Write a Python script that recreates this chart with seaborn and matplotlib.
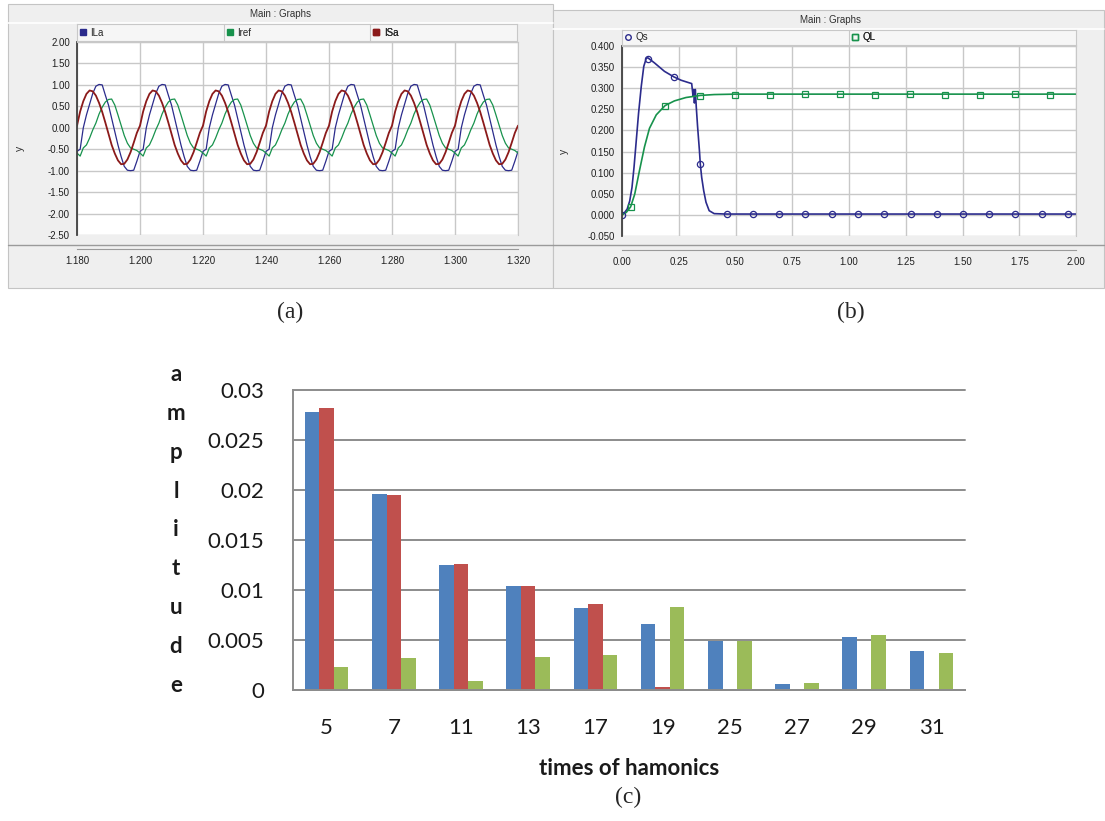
import numpy as np
import pandas as pd
import seaborn as sns
import matplotlib.pyplot as plt
from matplotlib.lines import Line2D
from matplotlib.patches import Rectangle

W, H = 1105, 821

# (a) one 20 ms cycle of each current, read at 1 ms steps from t = 1.180 s,
#     the picture shows 7 identical cycles
a_t0 = 1.180
a_cycles = 7
ila_cycle = [-0.55, -0.50, 0.00, 0.30, 0.55, 0.80, 0.97, 1.01, 1.00, 0.76,
             0.53, 0.22, -0.10, -0.40, -0.67, -0.90, -0.99, -1.00, -0.99, -0.78]
iref_cycle = [-0.59, -0.66, -0.47, -0.40, -0.24, -0.05, 0.11, 0.32, 0.48, 0.60,
              0.66, 0.67, 0.53, 0.30, 0.06, -0.18, -0.36, -0.47, -0.50, -0.53]
isa_cycle = [0.05, 0.38, 0.62, 0.79, 0.87, 0.85, 0.75, 0.58, 0.37, 0.12,
             -0.14, -0.40, -0.60, -0.76, -0.85, -0.84, -0.74, -0.57, -0.35, -0.12]

# (b) reactive powers
qs_t = [0.0, 0.012, 0.023, 0.034, 0.044, 0.053, 0.063, 0.073, 0.085, 0.096, 0.107,
        0.114, 0.143, 0.187, 0.228, 0.26, 0.289, 0.307, 0.313, 0.316, 0.319, 0.323,
        0.327, 0.333, 0.341, 0.345, 0.351, 0.36, 0.37, 0.384, 0.406, 0.459, 2.0]
qs_v = [0.0, 0.006, 0.014, 0.033, 0.065, 0.113, 0.177, 0.241, 0.305, 0.352, 0.371,
        0.372, 0.360, 0.340, 0.327, 0.319, 0.314, 0.311, 0.281, 0.297, 0.265, 0.297,
        0.257, 0.209, 0.153, 0.120, 0.089, 0.057, 0.030, 0.010, 0.003, 0.002, 0.002]
qs_mark_t = [0.0, 0.114, 0.228, 0.345, 0.461, 0.577, 0.692, 0.808, 0.924, 1.039,
             1.155, 1.271, 1.386, 1.502, 1.618, 1.733, 1.849, 1.965]
qs_mark_v = [0.0, 0.370, 0.326, 0.121, 0.002, 0.002, 0.002, 0.002, 0.002, 0.002,
             0.002, 0.002, 0.002, 0.002, 0.002, 0.002, 0.002, 0.002]
ql_t = [0.0, 0.019, 0.038, 0.056, 0.077, 0.099, 0.121, 0.151, 0.19, 0.231, 0.282,
        0.345, 0.406, 0.5, 2.0]
ql_v = [0.0, 0.006, 0.019, 0.049, 0.105, 0.161, 0.205, 0.237, 0.259, 0.270, 0.278,
        0.283, 0.285, 0.286, 0.286]
ql_mark_t = [0.038, 0.191, 0.345, 0.499, 0.653, 0.807, 0.961, 1.115, 1.269, 1.423,
             1.577, 1.731, 1.885]
ql_mark_v = [0.019, 0.258, 0.282, 0.285, 0.285, 0.287, 0.287, 0.284, 0.286, 0.284,
             0.284, 0.287, 0.284]

# (c) harmonic amplitudes
harmonics = ["5", "7", "11", "13", "17", "19", "25", "27", "29", "31"]
amp_blue = [0.0278, 0.0196, 0.0125, 0.0104, 0.0082, 0.0066, 0.0049, 0.0006, 0.0053, 0.0039]
amp_red = [0.0282, 0.0195, 0.0126, 0.0104, 0.0086, 0.0003, 0.0, 0.0, 0.0, 0.0]
amp_green = [0.0023, 0.0032, 0.0009, 0.0033, 0.0035, 0.0083, 0.0049, 0.0007, 0.0055, 0.0037]

C_BLUE, C_GREEN, C_RED = "#2b2b8c", "#17924c", "#8b1a1a"

sns.set_style("white")
plt.rcParams['font.family'] = ['Liberation Sans', 'DejaVu Sans']
plt.rcParams['axes.unicode_minus'] = False


def box(x0, y0, x1, y1):
    return [x0 / W, 1 - y1 / H, (x1 - x0) / W, (y1 - y0) / H]


fig = plt.figure(figsize=(W / 100, H / 100), dpi=100)
bg = fig.add_axes([0, 0, 1, 1])
bg.set_xlim(0, W)
bg.set_ylim(H, 0)
bg.axis('off')

# simulator window frames
for x0, x1, top, tx in [(8, 553, 4, 280), (553, 1104, 10, 831)]:
    bg.add_patch(Rectangle((x0, top), x1 - x0, 288 - top, fc="#efefef", ec="#c4c4c4", lw=0.8))
    bg.plot([x0, x1], [top + 19, top + 19], color="white", lw=1.2)
    bg.plot([x0, x1], [245, 245], color="#9a9a9a", lw=1.0)
    bg.text(tx, top + 10, "Main : Graphs", fontsize=7, ha="center", va="center", color="#303030")
bg.text(20, 148, "y", fontsize=7.5, rotation=90, ha="center", va="center", color="#303030")
bg.text(564, 151, "y", fontsize=7.5, rotation=90, ha="center", va="center", color="#303030")


def style_graph(ax):
    ax.set_facecolor("white")
    ax.grid(True, color="#c8c8c8", lw=1.0)
    for s in ["top", "right"]:
        ax.spines[s].set_color("#c8c8c8")
    ax.spines["left"].set_color("#404040")
    ax.spines["left"].set_linewidth(1.3)
    ax.spines["bottom"].set_position(("outward", 10))
    ax.spines["bottom"].set_color("#9a9a9a")
    ax.tick_params(axis="both", labelsize=7, direction="out", length=3, width=0.8,
                   color="#404040", pad=2, labelcolor="#202020")
    ax.tick_params(axis="x", length=3, color="#9a9a9a")


underlined = []


def legend_strip(rect, handles, labels, underline_last=True):
    lax = fig.add_axes(box(*rect))
    lax.set_facecolor("#f6f6f6")
    lax.set_xticks([])
    lax.set_yticks([])
    for s in lax.spines.values():
        s.set_color("#c8c8c8")
    n = len(handles)
    for i in range(1, n):
        lax.axvline(i / n, color="#c8c8c8", lw=0.8)
    for i, (h, lab) in enumerate(zip(handles, labels)):
        leg = lax.legend([h], [lab], loc="center left", bbox_to_anchor=(i / n, 0.5),
                         frameon=False, fontsize=7, handlelength=0.8, handletextpad=0.4,
                         borderaxespad=0, borderpad=0.2)
        lax.add_artist(leg)
        if underline_last and i == n - 1:
            underlined.append(leg.get_texts()[0])


# ---- (a)
axa = fig.add_axes(box(77, 42, 518, 235))
t_a = a_t0 + np.arange(a_cycles * 20 + 1) * 0.001
for cyc, c, lw in [(ila_cycle, C_BLUE, 0.9), (iref_cycle, C_GREEN, 0.9), (isa_cycle, C_RED, 1.3)]:
    vals = np.append(np.tile(cyc, a_cycles), cyc[0])
    sns.lineplot(x=t_a, y=vals, ax=axa, color=c, lw=lw, sort=False)
axa.set_xlim(1.18, 1.32)
axa.set_ylim(-2.5, 2.0)
axa.set_xticks(np.linspace(1.18, 1.32, 8))
axa.set_yticks(np.linspace(-2.5, 2.0, 10))
axa.xaxis.set_major_formatter("{x:.3f}")
axa.yaxis.set_major_formatter("{x:.2f}")
style_graph(axa)
sq = dict(marker="s", ls="none", markersize=4)
legend_strip((77, 24, 517, 41),
             [Line2D([], [], color=C_BLUE, **sq), Line2D([], [], color=C_GREEN, **sq),
              Line2D([], [], color=C_RED, **sq)],
             ["ILa", "Iref", "ISa"])

# ---- (b)
axb = fig.add_axes(box(622, 46, 1076, 236))
sns.lineplot(x=qs_t, y=qs_v, ax=axb, color=C_BLUE, lw=1.2, sort=False)
sns.lineplot(x=ql_t, y=ql_v, ax=axb, color=C_GREEN, lw=1.2, sort=False)
axb.plot(qs_mark_t, qs_mark_v, ls="none", marker="o", ms=4.5, mfc="none", mec=C_BLUE, mew=0.9)
axb.plot(ql_mark_t, ql_mark_v, ls="none", marker="s", ms=4.5, mfc="none", mec=C_GREEN, mew=0.9)
axb.set_xlim(0, 2.0)
axb.set_ylim(-0.05, 0.4)
axb.set_xticks(np.linspace(0, 2.0, 9))
axb.set_yticks(np.linspace(-0.05, 0.4, 10))
axb.xaxis.set_major_formatter("{x:.2f}")
axb.yaxis.set_major_formatter("{x:.3f}")
style_graph(axb)
legend_strip((622, 30, 1076, 45),
             [Line2D([], [], marker="o", ls="none", ms=4, mfc="none", mec=C_BLUE),
              Line2D([], [], marker="s", ls="none", ms=4, mfc="none", mec=C_GREEN)],
             ["Qs", "QL"])

# ---- (c)
df = pd.DataFrame({
    "harmonic": harmonics * 3,
    "amplitude": amp_blue + amp_red + amp_green,
    "series": ["s1"] * 10 + ["s2"] * 10 + ["s3"] * 10,
})
axc = fig.add_axes(box(293, 390, 965, 690))
sns.barplot(data=df, x="harmonic", y="amplitude", hue="series", order=harmonics,
            palette=["#4f81bd", "#c0504d", "#9bbb59"], saturation=1, width=0.65,
            linewidth=0, legend=False, ax=axc)
GRAY = "#8c8c8c"
y_ticks = [0, 0.005, 0.01, 0.015, 0.02, 0.025, 0.03]
axc.set_ylim(0, 0.03)
axc.set_xlim(-0.5, len(harmonics) - 0.5)
axc.set_yticks(y_ticks)
axc.set_yticklabels([f"{v:g}" for v in y_ticks])
axc.set_xticks(np.arange(len(harmonics) + 1) - 0.5, minor=True)
axc.set_axisbelow(True)
axc.grid(axis="y", color=GRAY, lw=1.4)
axc.grid(axis="x", visible=False)
for gl in axc.get_ygridlines():
    gl.set_clip_on(False)
for s in ["top", "right"]:
    axc.spines[s].set_visible(False)
for s in ["left", "bottom"]:
    axc.spines[s].set_color(GRAY)
    axc.spines[s].set_linewidth(1.4)
axc.tick_params(axis="y", direction="out", length=8, width=1.4, color=GRAY, pad=13,
                labelsize=16, labelfontfamily="Lato", labelcolor="#1a1a1a")
axc.tick_params(axis="x", which="major", length=0, pad=20, labelsize=16,
                labelfontfamily="Lato", labelcolor="#1a1a1a")
axc.tick_params(axis="x", which="minor", direction="out", length=10, width=1.4, color=GRAY)
axc.set_ylabel("")
axc.set_xlabel("times of hamonics", fontsize=16, fontweight="bold", family="Lato", color="#1a1a1a")
axc.xaxis.label.set_va("center")
axc.xaxis.set_label_coords(0.5, -0.26)

fig.text(176 / W, 1 - 530 / H, "\n".join("amplitude"), family="Lato", fontweight="bold",
         fontsize=16, ha="center", va="center", multialignment="center", linespacing=2.05,
         color="#1a1a1a")

for lab, x, y in [("(a)", 290, 312), ("(b)", 851, 312), ("(c)", 628, 797)]:
    fig.text(x / W, 1 - y / H, lab, family="Liberation Serif", fontsize=17,
             ha="center", va="center")

# underline the selected curve name in each legend strip
fig.canvas.draw()
for txt in underlined:
    bb = txt.get_window_extent()
    bg.plot([bb.x0, bb.x1], [H - bb.y0 + 1.0, H - bb.y0 + 1.0], color="#303030", lw=0.6)

fig.savefig("out.png", dpi=100)
plt.close("all")
